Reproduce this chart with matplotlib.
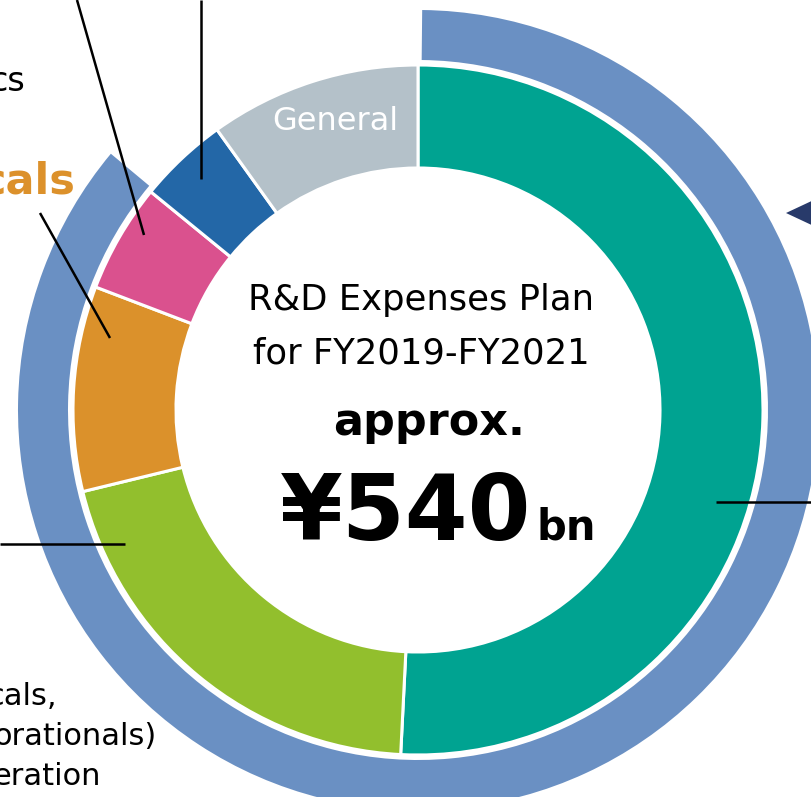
import matplotlib
matplotlib.use('Agg')
import matplotlib.pyplot as plt
from matplotlib.patches import Polygon

# R&D expense shares (% of approx. 540bn), clockwise from 12 o'clock
segments = ['Pharmaceuticals', 'Health & Crop Sciences', 'Energy & Functional Materials',
            'IT-related Chemicals', 'Petrochemicals & Plastics', 'General']
shares = [50.8, 20.4, 9.6, 5.1, 4.2, 9.9]
seg_colors = ['#00a391', '#92bf2d', '#db912b', '#da518e', '#2367a7', '#b4c1c9']

# outer ring: the part covered by the bracket vs the rest
ring_shares = [85.9, 14.1]
ring_colors = ['#6a90c3', 'none']

W, H = 812, 797


def Y(y):
    # picture rows are counted from the top
    return H - y


fig = plt.figure(figsize=(W / 100, H / 100), dpi=100)
ax = fig.add_axes([0, 0, 1, 1])

cx, cy = 418, Y(410)
ax.pie(shares, colors=seg_colors, radius=345, center=(cx, cy), startangle=90,
       counterclock=False, wedgeprops=dict(width=103, edgecolor='white', linewidth=2.2))
ax.pie(ring_shares, colors=ring_colors, radius=400, center=(cx, cy), startangle=89.4,
       counterclock=False, wedgeprops=dict(width=50, linewidth=0))

ax.set_xlim(0, W)
ax.set_ylim(0, H)
ax.set_aspect('auto')
ax.axis('off')

# leader lines
leaders = [((77, 0), (144, 235)),
           ((201, 0), (201, 179)),
           ((40, 213), (110, 338)),
           ((0, 544), (125, 544)),
           ((716, 502), (812, 502))]
for (x0, y0), (x1, y1) in leaders:
    ax.plot([x0, x1], [Y(y0), Y(y1)], color='black', lw=1.8, solid_capstyle='butt')

# arrow head coming in from the right
ax.add_patch(Polygon([(786, Y(213)), (850, Y(183)), (850, Y(243))],
                     closed=True, color='#283a6a', lw=0))

# centre text
ax.text(421, Y(310), 'R&D Expenses Plan', fontsize=25.5, ha='center', va='baseline')
ax.text(421, Y(363), 'for FY2019-FY2021', fontsize=25.5, ha='center', va='baseline')
ax.text(429, Y(435), 'approx.', fontsize=32, fontweight='bold', ha='center', va='baseline')
ax.text(531, Y(540), '¥540', fontsize=65, fontweight='bold', ha='right', va='baseline')
ax.text(537, Y(540), 'bn', fontsize=30, fontweight='bold', ha='left', va='baseline')
ax.text(335, Y(130), 'General', fontsize=23, color='white', ha='center', va='baseline')

# labels cut by the picture's left edge
ax.text(25, Y(91), 'cs', fontsize=24, ha='right', va='baseline')
ax.text(75, Y(193), 'cals', fontsize=31, fontweight='bold', color='#dc912b',
        ha='right', va='baseline')
ax.text(57, Y(705), 'cals,', fontsize=22, ha='right', va='baseline')
ax.text(157, Y(745), 'orationals)', fontsize=22, ha='right', va='baseline')
ax.text(101, Y(785), 'eration', fontsize=22, ha='right', va='baseline')

fig.savefig('out.png', dpi=100)
